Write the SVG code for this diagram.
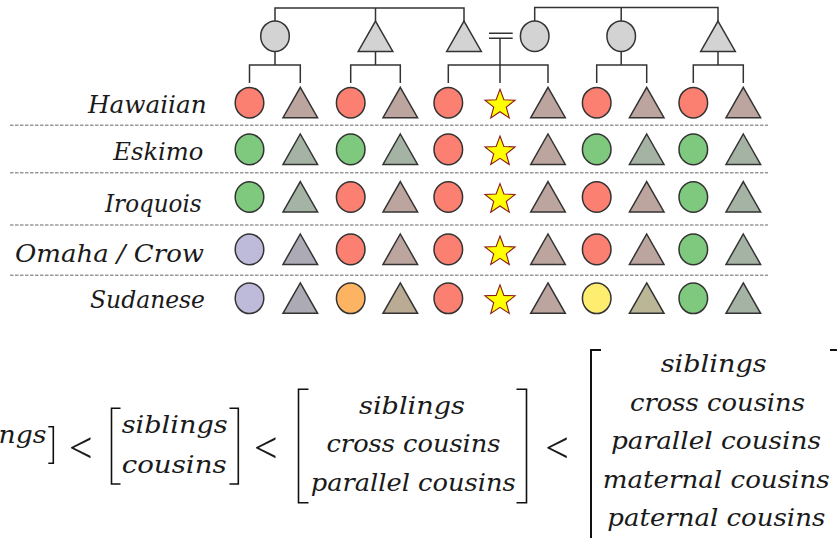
<svg xmlns="http://www.w3.org/2000/svg" width="837" height="538" viewBox="0 0 837 538">
<style>
.s{stroke:#333;stroke-width:1.5}
.star{fill:#ffff00;stroke:#8b1a1a;stroke-width:1.1}
.gy{fill:#d3d3d3}.R{fill:#fb8072}.rT{fill:#bca59f}.G{fill:#7fc97f}.gT{fill:#a4b3a4}
.P{fill:#bebada}.pT{fill:#acaab5}.O{fill:#fdb462}.oT{fill:#baab95}.Y{fill:#ffed6f}.yT{fill:#bab696}
.ln{fill:none;stroke:#333;stroke-width:1.5}
.dash{stroke:#9a9a9a;stroke-width:1.5;stroke-dasharray:3.5 1.5}
text{font-family:"DejaVu Serif Condensed","DejaVu Serif",serif;font-style:italic;fill:#1a1a1a}
.lab{font-size:24px}
.m{font-size:24.5px}
.lt{font-family:Lato,"DejaVu Sans",sans-serif;font-weight:300;font-style:normal;font-size:52px;text-anchor:middle}
.br{fill:none;stroke:#111;stroke-width:1.6}
.bbr{fill:none;stroke:#111;stroke-width:2}
</style>
<defs>
<ellipse id="c" class="s" cx="0" cy="0" rx="14.3" ry="15.3"/>
<polygon id="t" class="s" points="0,-15.4 17.3,15 -17.3,15"/>
<polygon id="st" class="star" points="0,-13.4 3.88,-2.94 15.03,-2.48 6.28,4.44 9.29,15.18 0,9 -9.29,15.18 -6.28,4.44 -15.03,-2.48 -3.88,-2.94"/>
</defs>

<g id="connectors">
<path class="ln" d="M275,21V8H464V21M375.5,8V21"/>
<path class="ln" d="M534.7,21V7.5H718V21M621.2,7.5V21"/>
<path class="ln" d="M275,52V65M249.5,83V65H300.3V83"/>
<path class="ln" d="M375.5,52V65M350.7,83V65H400.3V83"/>
<path class="ln" d="M489,33.3H512.7M489,38.3H512.7M500,38.3V83M448.3,83V65H548V83"/>
<path class="ln" d="M621.2,52V65M596.7,83V65H646.7V83"/>
<path class="ln" d="M718,52V65M693.3,83V65H743.3V83"/>
</g>

<g id="separators">
<line class="dash" x1="10" y1="125.3" x2="768" y2="125.3"/>
<line class="dash" x1="10" y1="172.7" x2="768" y2="172.7"/>
<line class="dash" x1="10" y1="225" x2="768" y2="225"/>
<line class="dash" x1="10" y1="275.3" x2="768" y2="275.3"/>
</g>

<g id="parents">
<g id="p1"><use href="#c" x="275" y="36.2" class="gy"/></g>
<g id="p2"><use href="#t" x="375.5" y="36.5" class="gy"/></g>
<g id="p3"><use href="#t" x="464" y="36.5" class="gy"/></g>
<g id="p4"><use href="#c" x="534.7" y="36.2" class="gy"/></g>
<g id="p5"><use href="#c" x="621.2" y="36.2" class="gy"/></g>
<g id="p6"><use href="#t" x="718" y="36.5" class="gy"/></g>
</g>

<g id="row-hawaiian">
<text class="lab" x="88" y="113.3" textLength="118.7" lengthAdjust="spacingAndGlyphs">Hawaiian</text>
<g id="h1"><use href="#c" x="249.5" y="102.7" class="R"/></g>
<g id="h2"><use href="#t" x="300.3" y="102.7" class="rT"/></g>
<g id="h3"><use href="#c" x="350.7" y="102.7" class="R"/></g>
<g id="h4"><use href="#t" x="400.3" y="102.7" class="rT"/></g>
<g id="h5"><use href="#c" x="448.3" y="102.7" class="R"/></g>
<g id="h6"><use href="#st" x="500" y="102.7"/></g>
<g id="h7"><use href="#t" x="548" y="102.7" class="rT"/></g>
<g id="h8"><use href="#c" x="596.7" y="102.7" class="R"/></g>
<g id="h9"><use href="#t" x="646.7" y="102.7" class="rT"/></g>
<g id="h10"><use href="#c" x="693.3" y="102.7" class="R"/></g>
<g id="h11"><use href="#t" x="743.3" y="102.7" class="rT"/></g>
</g>

<g id="row-eskimo">
<text class="lab" x="113.3" y="160" textLength="90" lengthAdjust="spacingAndGlyphs">Eskimo</text>
<g id="e1"><use href="#c" x="249.5" y="149.4" class="G"/></g>
<g id="e2"><use href="#t" x="300.3" y="149.4" class="gT"/></g>
<g id="e3"><use href="#c" x="350.7" y="149.4" class="G"/></g>
<g id="e4"><use href="#t" x="400.3" y="149.4" class="gT"/></g>
<g id="e5"><use href="#c" x="448.3" y="149.4" class="R"/></g>
<g id="e6"><use href="#st" x="500" y="149.4"/></g>
<g id="e7"><use href="#t" x="548" y="149.4" class="rT"/></g>
<g id="e8"><use href="#c" x="596.7" y="149.4" class="G"/></g>
<g id="e9"><use href="#t" x="646.7" y="149.4" class="gT"/></g>
<g id="e10"><use href="#c" x="693.3" y="149.4" class="G"/></g>
<g id="e11"><use href="#t" x="743.3" y="149.4" class="gT"/></g>
</g>

<g id="row-iroquois">
<text class="lab" x="105" y="212" textLength="96.7" lengthAdjust="spacingAndGlyphs">Iroquois</text>
<g id="i1"><use href="#c" x="249.5" y="197" class="G"/></g>
<g id="i2"><use href="#t" x="300.3" y="197" class="gT"/></g>
<g id="i3"><use href="#c" x="350.7" y="197" class="R"/></g>
<g id="i4"><use href="#t" x="400.3" y="197" class="rT"/></g>
<g id="i5"><use href="#c" x="448.3" y="197" class="R"/></g>
<g id="i6"><use href="#st" x="500" y="197"/></g>
<g id="i7"><use href="#t" x="548" y="197" class="rT"/></g>
<g id="i8"><use href="#c" x="596.7" y="197" class="R"/></g>
<g id="i9"><use href="#t" x="646.7" y="197" class="rT"/></g>
<g id="i10"><use href="#c" x="693.3" y="197" class="G"/></g>
<g id="i11"><use href="#t" x="743.3" y="197" class="gT"/></g>
</g>

<g id="row-omaha-crow">
<text class="lab" x="15" y="262" textLength="189" lengthAdjust="spacingAndGlyphs">Omaha  /  Crow</text>
<g id="o1"><use href="#c" x="249.5" y="249.4" class="P"/></g>
<g id="o2"><use href="#t" x="300.3" y="249.4" class="pT"/></g>
<g id="o3"><use href="#c" x="350.7" y="249.4" class="R"/></g>
<g id="o4"><use href="#t" x="400.3" y="249.4" class="rT"/></g>
<g id="o5"><use href="#c" x="448.3" y="249.4" class="R"/></g>
<g id="o6"><use href="#st" x="500" y="249.4"/></g>
<g id="o7"><use href="#t" x="548" y="249.4" class="rT"/></g>
<g id="o8"><use href="#c" x="596.7" y="249.4" class="R"/></g>
<g id="o9"><use href="#t" x="646.7" y="249.4" class="rT"/></g>
<g id="o10"><use href="#c" x="693.3" y="249.4" class="G"/></g>
<g id="o11"><use href="#t" x="743.3" y="249.4" class="gT"/></g>
</g>

<g id="row-sudanese">
<text class="lab" x="90" y="308.3" textLength="115" lengthAdjust="spacingAndGlyphs">Sudanese</text>
<g id="s1"><use href="#c" x="249.5" y="298.3" class="P"/></g>
<g id="s2"><use href="#t" x="300.3" y="298.3" class="pT"/></g>
<g id="s3"><use href="#c" x="350.7" y="298.3" class="O"/></g>
<g id="s4"><use href="#t" x="400.3" y="298.3" class="oT"/></g>
<g id="s5"><use href="#c" x="448.3" y="298.3" class="R"/></g>
<g id="s6"><use href="#st" x="500" y="298.3"/></g>
<g id="s7"><use href="#t" x="548" y="298.3" class="rT"/></g>
<g id="s8"><use href="#c" x="596.7" y="298.3" class="Y"/></g>
<g id="s9"><use href="#t" x="646.7" y="298.3" class="yT"/></g>
<g id="s10"><use href="#c" x="693.3" y="298.3" class="G"/></g>
<g id="s11"><use href="#t" x="743.3" y="298.3" class="gT"/></g>
</g>

<g id="formula">
<text class="m" x="-1.5" y="443.3" textLength="48" lengthAdjust="spacingAndGlyphs">ngs</text>
<path class="br" d="M48.3,426.7H53.3V463.3H48.3"/>
<text class="lt" x="81.7" y="464.5">&lt;</text>

<path class="br" d="M120.5,408.3H111.5V484H120.5"/>
<text class="m" x="121.7" y="433.3" textLength="106" lengthAdjust="spacingAndGlyphs">siblings</text>
<text class="m" x="121.7" y="472.7" textLength="105" lengthAdjust="spacingAndGlyphs">cousins</text>
<path class="br" d="M229.5,408.3H238.3V484H229.5"/>
<text class="lt" x="266.7" y="464.5">&lt;</text>

<path class="br" d="M308.5,389.3H298.5V502.7H308.5"/>
<text class="m" x="359" y="414" textLength="106" lengthAdjust="spacingAndGlyphs">siblings</text>
<text class="m" x="326.5" y="452.3" textLength="174" lengthAdjust="spacingAndGlyphs">cross cousins</text>
<text class="m" x="310.7" y="490.6" textLength="205" lengthAdjust="spacingAndGlyphs">parallel cousins</text>
<path class="br" d="M516.5,389.3H526.5V502.7H516.5"/>
<text class="lt" x="557.8" y="464.5">&lt;</text>

<path class="bbr" d="M601,350H591V540"/>
<text class="m" x="660.7" y="372" textLength="106" lengthAdjust="spacingAndGlyphs">siblings</text>
<text class="m" x="630" y="410.5" textLength="175" lengthAdjust="spacingAndGlyphs">cross cousins</text>
<text class="m" x="611" y="449" textLength="210" lengthAdjust="spacingAndGlyphs">parallel cousins</text>
<text class="m" x="602.7" y="487.5" textLength="227" lengthAdjust="spacingAndGlyphs">maternal cousins</text>
<text class="m" x="607.3" y="526" textLength="218" lengthAdjust="spacingAndGlyphs">paternal cousins</text>
<path class="bbr" d="M830,350H841V540"/>
</g>
</svg>
